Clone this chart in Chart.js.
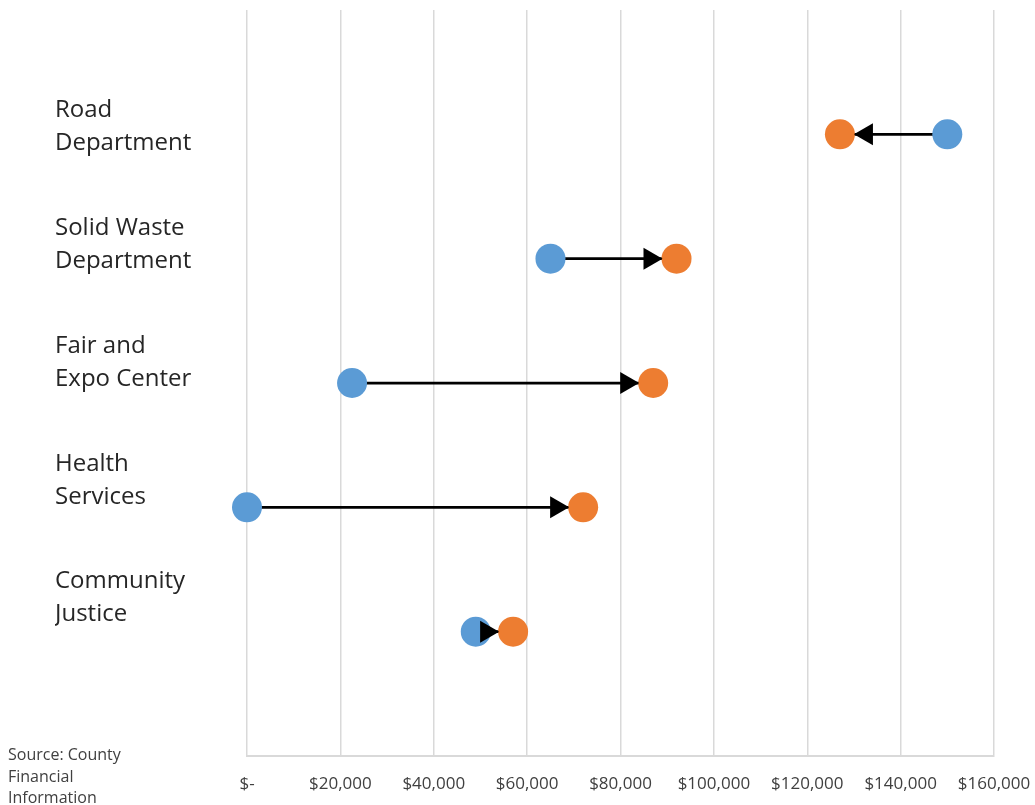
<!DOCTYPE html>
<html>
<head>
<meta charset="utf-8">
<script src="https://cdn.jsdelivr.net/npm/chart.js@4/dist/chart.umd.min.js"></script>
<style>
  body { margin: 0; background: #fff; }
  #wrap { position: relative; width: 1035px; height: 805px; }
  #source {
    position: absolute; left: 8px; top: 744px;
    font: 16px "Open Sans", sans-serif; line-height: 21.5px; color: #404040;
  }
</style>
</head>
<body>
<div id="wrap">
  <canvas id="chart" width="1035" height="805"></canvas>
  <div id="source">Source: County<br>Financial<br>Information</div>
</div>
<script>
// Departments, top to bottom
const departments = [
  ['Road', 'Department'],
  ['Solid Waste', 'Department'],
  ['Fair and', 'Expo Center'],
  ['Health', 'Services'],
  ['Community', 'Justice']
];
// start value (blue) and end value (orange) for each department
const startValues = [150000, 65000, 22500, 0, 49000];
const endValues = [127000, 92000, 87000, 72000, 57000];
// x axis ticks
const xTicks = [0, 20000, 40000, 60000, 80000, 100000, 120000, 140000, 160000];

const blue = '#5B9BD5';
const orange = '#ED7D31';

// row positions on the y axis (1 = top row)
const rows = departments.map((d, i) => i + 1);

// one black line per department, from start to end
const lineSets = rows.map((r, i) => ({
  type: 'line',
  data: [{ x: startValues[i], y: r }, { x: endValues[i], y: r }],
  borderColor: '#000',
  borderWidth: 2.75,
  pointRadius: 0,
  clip: false,
  arrow: true,
  order: 3
}));

// draws the arrow heads on top of everything, tip touching the orange dot
const arrowHeads = {
  id: 'arrowHeads',
  afterDatasetsDraw(chart) {
    const ctx = chart.ctx;
    chart.data.datasets.forEach((ds, i) => {
      if (!ds.arrow) return;
      const pts = chart.getDatasetMeta(i).data;
      const a = pts[0], b = pts[1];
      const dir = b.x >= a.x ? 1 : -1;
      const tip = b.x - dir * 14;
      const len = 19, half = 11;
      ctx.save();
      ctx.fillStyle = '#000';
      ctx.beginPath();
      ctx.moveTo(tip, b.y);
      ctx.lineTo(tip - dir * len, b.y - half);
      ctx.lineTo(tip - dir * len, b.y + half);
      ctx.closePath();
      ctx.fill();
      ctx.restore();
    });
  }
};

new Chart(document.getElementById('chart'), {
  type: 'scatter',
  data: {
    datasets: [
      ...lineSets,
      {
        data: rows.map((r, i) => ({ x: startValues[i], y: r })),
        backgroundColor: blue,
        borderWidth: 0,
        pointRadius: 15,
        pointHoverRadius: 15,
        clip: false,
        order: 1
      },
      {
        data: rows.map((r, i) => ({ x: endValues[i], y: r })),
        backgroundColor: orange,
        borderWidth: 0,
        pointRadius: 15,
        pointHoverRadius: 15,
        clip: false,
        order: 1
      }
    ]
  },
  options: {
    responsive: false,
    animation: false,
    layout: { autoPadding: false, padding: { left: 55, top: 10, right: 41, bottom: 0 } },
    plugins: { legend: { display: false }, tooltip: { enabled: false } },
    scales: {
      x: {
        type: 'linear',
        min: 0,
        max: 160000,
        afterBuildTicks: s => { s.ticks = xTicks.map(v => ({ value: v })); },
        afterFit: s => { s.height = 49; s.paddingLeft = 0; s.paddingRight = 0; },
        grid: { color: '#d9d9d9', lineWidth: 1.5, drawTicks: false },
        border: { display: true, color: '#d9d9d9', width: 2 },
        ticks: {
          padding: 18,
          color: '#404040',
          font: { family: 'Open Sans', size: 17 },
          callback: v => v === 0 ? '$-' : '$' + v.toLocaleString('en-US')
        }
      },
      y: {
        type: 'linear',
        min: 0,
        max: 6,
        reverse: true,
        display: false
      },
      yLabels: {
        type: 'linear',
        position: 'left',
        min: 0.01,
        max: 6.34,
        reverse: true,
        afterBuildTicks: s => { s.ticks = rows.map(v => ({ value: v })); },
        afterFit: s => { s.width = 192; s.paddingTop = 0; s.paddingBottom = 0; },
        grid: { display: false },
        border: { display: false },
        ticks: {
          crossAlign: 'far',
          color: '#262626',
          font: { family: 'Open Sans', size: 24, lineHeight: 1.375 },
          callback: (v, i) => departments[i]
        }
      }
    }
  },
  plugins: [arrowHeads]
});
</script>
</body>
</html>
